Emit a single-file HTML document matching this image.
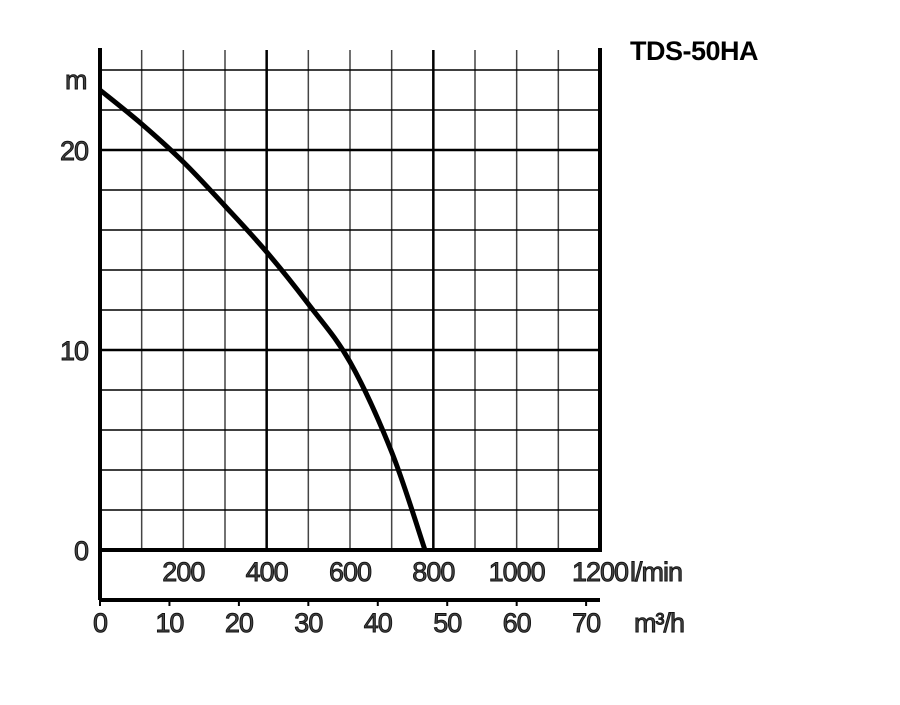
<!DOCTYPE html>
<html><head><meta charset="utf-8"><style>
body{margin:0;background:#fff}
svg text{font-family:"Liberation Sans",sans-serif;fill:#444;stroke:#111;stroke-width:0.9px;letter-spacing:-1px}
</style></head><body>
<svg id="c" width="900" height="700" viewBox="0 0 900 700">
<text x="630" y="60" font-size="27" font-weight="bold" style="fill:#000;stroke:none;letter-spacing:-0.5px">TDS-50HA</text>
<g id="grid"></g><g id="axes"></g><g id="labels"></g><path id="curve" fill="none" stroke="#000" stroke-width="5"/>
</svg>
<script>
const flowLmin=[0,100,200,300,400,500,600,700,780];
const headM=[23,21.3,19.4,17.2,14.9,12.3,9.4,4.9,0];
const lminTicks=[200,400,600,800,1000,1200];
const m3hTicks=[0,10,20,30,40,50,60,70];
const headTicks=[0,10,20];
const X0=100,X1=600,Y0=550;
const x=v=>X0+v*(X1-X0)/1200;
const y=v=>Y0-v*20;
const xm=v=>x(v*1000/60);
const ns='http://www.w3.org/2000/svg';
function mk(tag,attrs,parent,txt){const e=document.createElementNS(ns,tag);for(const k in attrs)e.setAttribute(k,attrs[k]);if(txt!==undefined)e.textContent=txt;document.getElementById(parent).appendChild(e);return e;}
for(let q=100;q<=1100;q+=100){const e=mk('line',{x1:x(q),x2:x(q),y1:50,y2:550,stroke:q%400==0?'#000':'#444','stroke-width':q%400==0?2.5:1.5},'grid');

}
for(let h=2;h<=24;h+=2){const e=mk('line',{x1:100,x2:600,y1:y(h),y2:y(h),stroke:'#000','stroke-width':h%10==0?2.5:1.5},'grid');

}
[[100,48,100,600,4],[600,48,600,552,4],[100,550,600,550,4],[100,600,600,600,4]].forEach(a=>{const e=mk('line',{x1:a[0],y1:a[1],x2:a[2],y2:a[3],stroke:'#000','stroke-width':a[4]},'axes');

});
m3hTicks.forEach(t=>{const e=mk('line',{x1:xm(t),x2:xm(t),y1:600,y2:606,stroke:'#000','stroke-width':2},'axes');


const l=mk('text',{x:xm(t),y:632,'font-size':27,'text-anchor':'middle'},'labels',t);

});
lminTicks.forEach(t=>{const l=mk('text',{x:x(t),y:581,'font-size':27,'text-anchor':'middle'},'labels',t);

});
headTicks.forEach(t=>{const l=mk('text',{x:88,y:y(t)+10,'font-size':27,'text-anchor':'end'},'labels',t);

});
[['m',65,89,'head-unit'],['l/min',630,581,'lmin-unit'],['m³/h',634,632,'m3h-unit']].forEach(a=>{const l=mk('text',{x:a[1],y:a[2],'font-size':27},'labels',a[0]);

});
const P=flowLmin.map((f,i)=>[x(f),y(headM[i])]);
let d='M'+P[0][0]+','+P[0][1];
for(let i=0;i<P.length-1;i++){const p0=P[Math.max(0,i-1)],p1=P[i],p2=P[i+1],p3=P[Math.min(P.length-1,i+2)];
d+=' C'+(p1[0]+(p2[0]-p0[0])/6)+','+(p1[1]+(p2[1]-p0[1])/6)+' '+(p2[0]-(p3[0]-p1[0])/6)+','+(p2[1]-(p3[1]-p1[1])/6)+' '+p2[0]+','+p2[1];}
document.getElementById('curve').setAttribute('d',d);
</script>
</body></html>
